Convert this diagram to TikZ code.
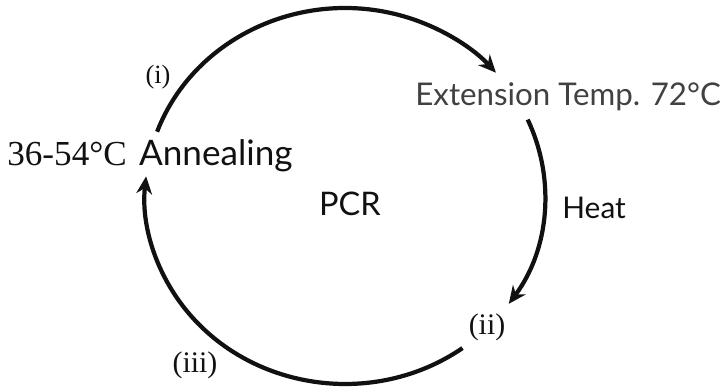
\documentclass[tikz,border=0pt]{standalone}
\usepackage{fontspec}
\setmainfont{Liberation Serif}
\setsansfont{Lato}
\usetikzlibrary{arrows.meta,positioning,calc}
\definecolor{ink}{HTML}{111111}
\tikzset{cyc/.style={draw=ink,line width=2.4pt,-{Stealth[length=10pt,width=9pt]}},
  lbl/.style={text=ink,font=\sffamily\fontsize{17}{20}\selectfont,inner sep=0pt},
  ext/.style={text=ink!80,font=\sffamily\fontsize{17.8}{20}\selectfont,inner sep=0pt},
  num/.style={text=ink,font=\fontsize{17}{20}\selectfont,inner sep=0pt}}

\begin{document}
\begin{tikzpicture}[x=0.02cm,y=0.02cm]
\useasboundingbox (0,0) rectangle (723,387);
\coordinate (c) at (345,191);
\draw[cyc] (c) ++(160:4cm and 3.76cm) arc[start angle=160,end angle=41,x radius=4cm,y radius=3.76cm];
\draw[cyc] (c) ++(24:4cm and 3.76cm) arc[start angle=24,end angle=-35,x radius=4cm,y radius=3.76cm];
\draw[cyc] (c) ++(-54:4cm and 3.76cm) arc[start angle=-54,end angle=-186,x radius=4cm,y radius=3.76cm];
\node[num,font=\fontsize{15}{18}\selectfont] (i) at (158,310) {(i)};
\node[num] (ii) at (487,60) {(ii)};
\node[num] (iii) at (195,22) {(iii)};
\node[lbl,anchor=base west,font=\fontsize{20}{22}\selectfont] (anneal) at (7,222)
  {36-54°C\hspace{7pt}\sffamily Annealing};
\node[ext,anchor=base west] (extn) at (415,282) {Extension Temp. 72°C};
\node[lbl,anchor=base] (pcr) at (350,172) {\fontsize{18.5}{22}\selectfont PCR};
\node[lbl,anchor=base west] (heat) at (562,169) {Heat};
\end{tikzpicture}
\end{document}
